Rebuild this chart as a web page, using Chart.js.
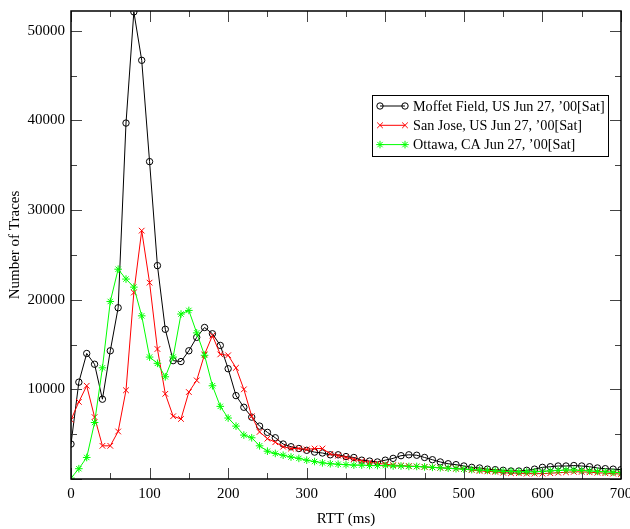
<!DOCTYPE html>
<html><head><meta charset="utf-8">
<script src="https://cdn.jsdelivr.net/npm/chart.js@4"></script>
<style>html,body{margin:0;padding:0;background:#fff}canvas{display:block}</style>
</head><body>
<canvas id="c" width="630" height="529"></canvas>
<script>
const rtt = [0,10,20,30,40,50,60,70,80,90,100,110,120,130,140,150,160,170,180,190,200,210,220,230,240,250,260,270,280,290,300,310,320,330,340,350,360,370,380,390,400,410,420,430,440,450,460,470,480,490,500,510,520,530,540,550,560,570,580,590,600,610,620,630,640,650,660,670,680,690,700];
const moffett = [3900,10800,14000,12800,8900,14300,19100,39700,52100,46700,35400,23800,16700,13200,13100,14300,15800,16900,16200,14900,12300,9300,8000,6900,5900,5200,4600,3900,3600,3400,3200,3000,2900,2700,2700,2500,2400,2100,2000,1900,2100,2300,2600,2700,2650,2400,2150,1900,1700,1600,1450,1300,1230,1100,1040,970,890,890,970,1100,1300,1370,1450,1450,1500,1450,1370,1230,1150,1100,1040];
const sanJose = [6600,8600,10400,6900,3700,3700,5300,9900,20800,27700,21900,14500,9500,7000,6700,9700,11000,13900,16000,13900,13800,12400,10000,7000,5250,4500,4100,3600,3400,3400,3300,3400,3400,2800,2600,2400,2200,2000,1850,1750,1650,1550,1500,1450,1400,1350,1300,1250,1200,1150,1100,1000,900,850,800,700,650,650,600,600,600,650,700,750,800,800,750,700,650,600,550];
const ottawa = [100,1150,2400,6300,12400,19800,23400,22300,21400,18200,13600,12900,11400,13600,18400,18800,16300,13800,10400,8100,6800,5900,4900,4600,3700,3100,2850,2650,2450,2300,2100,1950,1800,1700,1650,1600,1550,1550,1500,1500,1500,1450,1450,1400,1400,1350,1300,1250,1200,1150,1100,1050,1000,950,900,850,850,800,800,800,850,900,950,1000,1000,950,900,850,800,750,700];
const seriesLabels = ["Moffet Field, US Jun 27, \u201900[Sat]", "San Jose, US Jun 27, \u201900[Sat]", "Ottawa, CA Jun 27, \u201900[Sat]"];
const xMajorTicks = [0,100,200,300,400,500,600,700];
const xMinorTicks = [50,150,250,350,450,550,650];
const yMajorTicks = [0,10000,20000,30000,40000,50000];
const yMinorTicks = [5000,15000,25000,35000,45000];

const FONT = "'Liberation Serif','DejaVu Serif',serif";

function toXY(ys){ return rtt.map((x,i)=>({x:x,y:ys[i]})); }

function drawMarker(ctx, style, x, y, r){
  ctx.beginPath();
  if(style==='circle'){ ctx.arc(x,y,r,0,Math.PI*2); }
  else {
    const o = r*Math.SQRT1_2;
    if(style==='crossRot' || style==='star'){
      ctx.moveTo(x-o,y-o); ctx.lineTo(x+o,y+o);
      ctx.moveTo(x-o,y+o); ctx.lineTo(x+o,y-o);
    }
    if(style==='star'){
      ctx.moveTo(x,y-r); ctx.lineTo(x,y+r);
      ctx.moveTo(x-r,y); ctx.lineTo(x+r,y);
    }
  }
  ctx.stroke();
}

const framePlugin = {
  id:'frame',
  afterDatasetsDraw(chart){
    const ctx = chart.ctx, a = chart.chartArea;
    const xs = chart.scales.x, ys = chart.scales.y;
    ctx.save();
    ctx.strokeStyle = '#444'; ctx.lineWidth = 1;
    ctx.beginPath();
    const tick = (v,len,isX)=>{
      if(isX){
        const px = Math.round(xs.getPixelForValue(v))+0.5;
        ctx.moveTo(px,a.bottom); ctx.lineTo(px,a.bottom-len);
        ctx.moveTo(px,a.top); ctx.lineTo(px,a.top+len);
      } else {
        const py = Math.round(ys.getPixelForValue(v))+0.5;
        ctx.moveTo(a.left,py); ctx.lineTo(a.left+len,py);
        ctx.moveTo(a.right,py); ctx.lineTo(a.right-len,py);
      }
    };
    xMajorTicks.forEach(v=>tick(v,11,true));
    xMinorTicks.forEach(v=>tick(v,6,true));
    yMajorTicks.forEach(v=>tick(v,11,false));
    yMinorTicks.forEach(v=>tick(v,6,false));
    ctx.stroke();
    ctx.strokeStyle = '#000'; ctx.lineWidth = 1.5;
    ctx.strokeRect(a.left, a.top, a.right-a.left, a.bottom-a.top);

    // legend
    const bx = 372.5, by = 95.5, bw = 236, bh = 61;
    ctx.fillStyle = '#fff';
    ctx.fillRect(bx,by,bw,bh);
    ctx.lineWidth = 1; ctx.strokeStyle = '#000';
    ctx.strokeRect(bx,by,bw,bh);
    ctx.font = "14.2px " + FONT;
    ctx.textBaseline = 'middle'; ctx.textAlign = 'left';
    chart.data.datasets.forEach((ds,i)=>{
      const y = 106 + i*19.3;
      ctx.strokeStyle = ds.borderColor; ctx.lineWidth = 1;
      ctx.beginPath(); ctx.moveTo(380,y); ctx.lineTo(405,y); ctx.stroke();
      drawMarker(ctx, ds.pointStyle, 380, y, ds.pointRadius);
      drawMarker(ctx, ds.pointStyle, 405, y, ds.pointRadius);
      ctx.fillStyle = '#000';
      ctx.fillText(ds.label, 413, y+1);
    });
    ctx.restore();
  }
};

new Chart(document.getElementById('c'), {
  type:'line',
  data:{datasets:[
    {label:seriesLabels[0], data:toXY(moffett), borderColor:'#000', backgroundColor:'rgba(0,0,0,0)', borderWidth:1, pointStyle:'circle', pointRadius:3.2, pointBorderWidth:1, pointBorderColor:'#000', pointBackgroundColor:'rgba(0,0,0,0)', tension:0, order:3},
    {label:seriesLabels[1], data:toXY(sanJose), borderColor:'#ff0000', backgroundColor:'#ff0000', borderWidth:1, pointStyle:'crossRot', pointRadius:4, pointBorderWidth:1, pointBorderColor:'#ff0000', tension:0, order:2},
    {label:seriesLabels[2], data:toXY(ottawa), borderColor:'#00ff00', backgroundColor:'#00ff00', borderWidth:1, pointStyle:'star', pointRadius:3.8, pointBorderWidth:1, pointBorderColor:'#00ff00', tension:0, order:1}
  ]},
  options:{
    responsive:false, animation:false,
    layout:{padding:{top:11,right:9,left:0,bottom:0}, autoPadding:false},
    plugins:{legend:{display:false}, tooltip:{enabled:false}},
    scales:{
      x:{type:'linear', min:0, max:700,
        ticks:{maxRotation:0, autoSkip:false, color:'#000', font:{family:FONT,size:15}, padding:6},
        afterBuildTicks(s){ s.ticks = xMajorTicks.map(v=>({value:v})); },
        grid:{display:false, drawTicks:false}, border:{display:false},
        title:{display:true, text:'RTT (ms)', color:'#000', font:{family:FONT,size:15}, padding:{top:0,bottom:1}},
        afterFit(s){ s.height = 50; s.paddingLeft = 0; s.paddingRight = 0; s.paddingTop = 0; s.paddingBottom = 0; }
      },
      y:{type:'linear', min:0, max:52200,
        ticks:{autoSkip:false, color:'#000', font:{family:FONT,size:15}, padding:6,
          callback:(v)=> v===0 ? '' : String(v)},
        afterBuildTicks(s){ s.ticks = yMajorTicks.map(v=>({value:v})); },
        grid:{display:false, drawTicks:false}, border:{display:false},
        title:{display:true, text:'Number of Traces', color:'#000', font:{family:FONT,size:15}, padding:{top:6,bottom:0}},
        afterFit(s){ s.width = 71; s.paddingLeft = 0; s.paddingRight = 0; s.paddingTop = 0; s.paddingBottom = 0; }
      }
    }
  },
  plugins:[framePlugin]
});
</script>
</body></html>
